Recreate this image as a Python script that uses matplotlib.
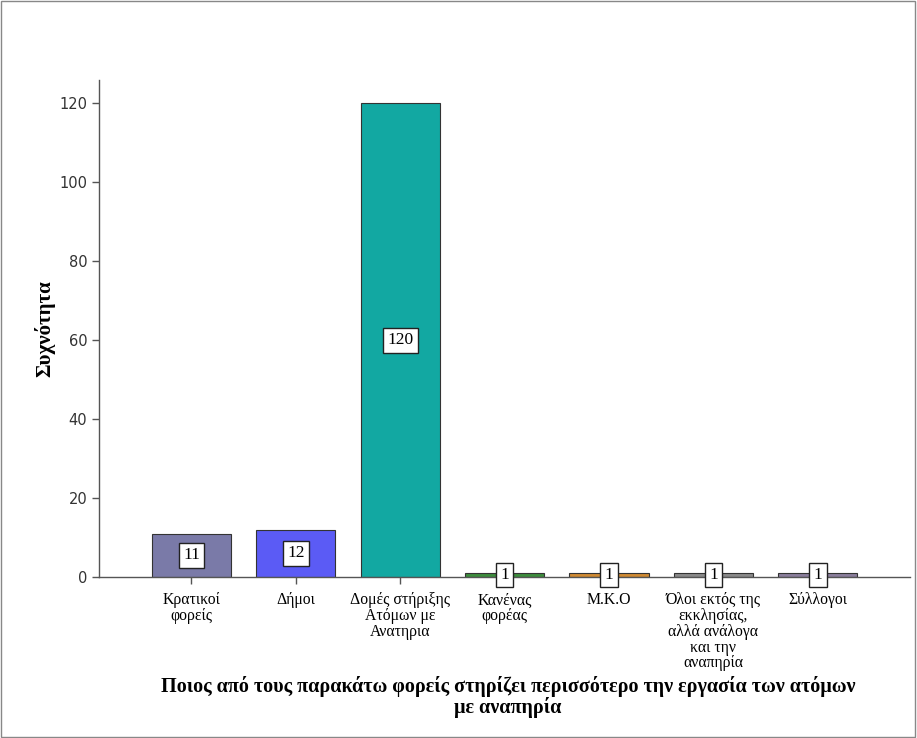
import matplotlib
matplotlib.use("Agg")
import matplotlib.pyplot as plt
from matplotlib.patches import Rectangle

categories = [
    "Κρατικοί\nφορείς",
    "Δήμοι",
    "Δομές στήριξης\nΑτόμων με\nΑνατηρια",
    "Κανένας\nφορέας",
    "Μ.Κ.Ο",
    "Όλοι εκτός της\nεκκλησίας,\nαλλά ανάλογα\nκαι την\nαναπηρία",
    "Σύλλογοι",
]
counts = [11, 12, 120, 1, 1, 1, 1]
colors = ["#7a7aa8", "#5b5bf5", "#12a8a2", "#3c8c3c", "#d08a32", "#8a8a8a", "#8a7e9c"]
yticks = [0, 20, 40, 60, 80, 100, 120]

serif = ["Liberation Serif", "DejaVu Serif"]

fig = plt.figure(figsize=(9.17, 7.38), dpi=100)
ax = fig.add_axes([0.108, 0.218, 0.884, 0.674])

x = list(range(len(counts)))
bars = ax.bar(x, counts, width=0.76, color=colors, edgecolor="#333333", linewidth=0.8)

for xi, v in zip(x, counts):
    ax.text(xi, v / 2, str(v), ha="center", va="center", fontsize=12.5,
            family=serif,
            bbox=dict(boxstyle="square,pad=0.25", facecolor="white", edgecolor="#222222", linewidth=1.0))

ax.set_xlim(-0.885, 6.88)
ax.set_ylim(0, 126)
ax.set_yticks(yticks)
ax.set_yticklabels([str(t) for t in yticks], fontsize=10.5, color="#333333")
ax.set_xticks(x)
ax.set_xticklabels(categories, fontsize=11.3, family=serif, linespacing=0.98)

for s in ["top", "right"]:
    ax.spines[s].set_visible(False)
for s in ["left", "bottom"]:
    ax.spines[s].set_color("#555555")
    ax.spines[s].set_linewidth(1.0)
ax.tick_params(axis="both", direction="out", length=5, width=1.0, color="#555555")
ax.tick_params(axis="x", pad=6)

ax.set_ylabel("Συχνότητα", fontsize=15, fontweight="bold", family=serif, labelpad=3)
fig.text(0.554, 0.027,
         "Ποιος από τους παρακάτω φορείς στηρίζει περισσότερο την εργασία των ατόμων\nμε αναπηρία",
         ha="center", va="bottom", fontsize=14.5, fontweight="bold", family=serif, linespacing=1.0)

fig.patches.append(Rectangle((0.001, 0.001), 0.997, 0.997, transform=fig.transFigure,
                             fill=False, edgecolor="#888888", linewidth=1.0))

fig.savefig("out.png", dpi=100)
